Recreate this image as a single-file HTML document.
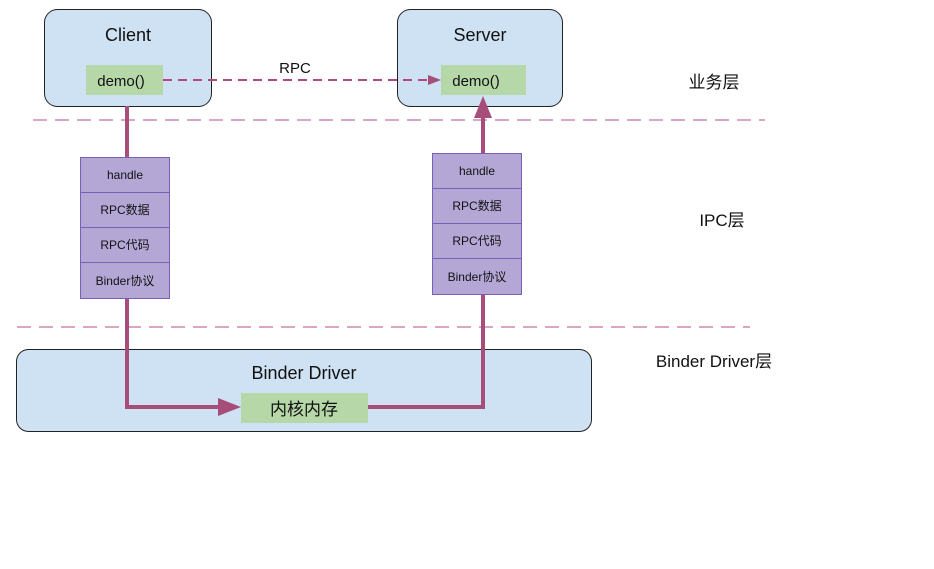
<!DOCTYPE html>
<html><head><meta charset="utf-8"><style>
html,body{margin:0;padding:0;background:#fff;}
svg{display:block;font-family:"Liberation Sans","Noto Sans CJK SC",sans-serif;}
</style></head><body>
<svg width="934" height="569" viewBox="0 0 934 569">
<rect x="0" y="0" width="934" height="569" fill="#fff"/>
<!-- layer dividers -->
<line x1="33" y1="120" x2="765" y2="120" stroke="#dba6c2" stroke-width="2" stroke-dasharray="14,8"/>
<line x1="17" y1="327" x2="750" y2="327" stroke="#dba6c2" stroke-width="2" stroke-dasharray="14,8"/>
<!-- client/server -->
<rect x="44.5" y="9.5" width="167" height="97" rx="13" fill="#cfe2f3" stroke="#222" stroke-width="1"/>
<rect x="397.5" y="9.5" width="165" height="97" rx="13" fill="#cfe2f3" stroke="#222" stroke-width="1"/>
<text x="128" y="41" font-size="18" text-anchor="middle" fill="#111">Client</text>
<text x="480" y="41" font-size="18" text-anchor="middle" fill="#111">Server</text>
<rect x="86" y="65" width="77" height="30" fill="#b6d7a8"/>
<rect x="441" y="65" width="85" height="30" fill="#b6d7a8"/>
<text x="121" y="86" font-size="15" text-anchor="middle" fill="#111">demo()</text>
<text x="476" y="86" font-size="15" text-anchor="middle" fill="#111">demo()</text>
<line x1="163" y1="80" x2="430" y2="80" stroke="#b0497f" stroke-width="2" stroke-dasharray="9,6"/>
<polygon points="428,75 441,80 428,85" fill="#a64d79"/>
<text x="295" y="73" font-size="15" text-anchor="middle" fill="#111">RPC</text>
<!-- connectors -->
<polyline points="127,106 127,157" fill="none" stroke="#a64d79" stroke-width="4"/>
<polyline points="127,298 127,407 222,407" fill="none" stroke="#a64d79" stroke-width="4"/>
<polygon points="218,398 241,407 218,416" fill="#a64d79"/>
<polyline points="368,407 483,407 483,294" fill="none" stroke="#a64d79" stroke-width="4"/>
<line x1="483" y1="153" x2="483" y2="114" stroke="#a64d79" stroke-width="4"/>
<polygon points="474,118 483,96 492,118" fill="#a64d79"/>
<!-- stacks -->
<g stroke="#7a5fb8" stroke-width="1" fill="#b4a7d6">
<rect x="80.5" y="157.5" width="89" height="35"/>
<rect x="80.5" y="192.5" width="89" height="35"/>
<rect x="80.5" y="227.5" width="89" height="35"/>
<rect x="80.5" y="262.5" width="89" height="36"/>
<rect x="432.5" y="153.5" width="89" height="35"/>
<rect x="432.5" y="188.5" width="89" height="35"/>
<rect x="432.5" y="223.5" width="89" height="35"/>
<rect x="432.5" y="258.5" width="89" height="36"/>
</g>
<g font-size="12" text-anchor="middle" fill="#111">
<text x="125" y="179">handle</text>
<text x="125" y="214">RPC数据</text>
<text x="125" y="249">RPC代码</text>
<text x="125" y="285">Binder协议</text>
<text x="477" y="175">handle</text>
<text x="477" y="210">RPC数据</text>
<text x="477" y="245">RPC代码</text>
<text x="477" y="281">Binder协议</text>
</g>
<!-- binder driver -->
<rect x="16.5" y="349.5" width="575" height="82" rx="12" fill="#cfe2f3" stroke="#222" stroke-width="1" fill-opacity="1"/>
<polyline points="127,349 127,407 222,407" fill="none" stroke="#a64d79" stroke-width="4"/>
<polygon points="218,398 241,407 218,416" fill="#a64d79"/>
<polyline points="368,407 483,407 483,349" fill="none" stroke="#a64d79" stroke-width="4"/>
<text x="304" y="379" font-size="18" text-anchor="middle" fill="#111">Binder Driver</text>
<rect x="241" y="393" width="127" height="30" fill="#b6d7a8"/>
<text x="304" y="415" font-size="17" text-anchor="middle" fill="#111">内核内存</text>
<!-- layer labels -->
<g font-size="17" text-anchor="middle" fill="#111">
<text x="714" y="88">业务层</text>
<text x="722" y="226">IPC层</text>
<text x="714" y="367">Binder Driver层</text>
</g>
</svg>
</body></html>
